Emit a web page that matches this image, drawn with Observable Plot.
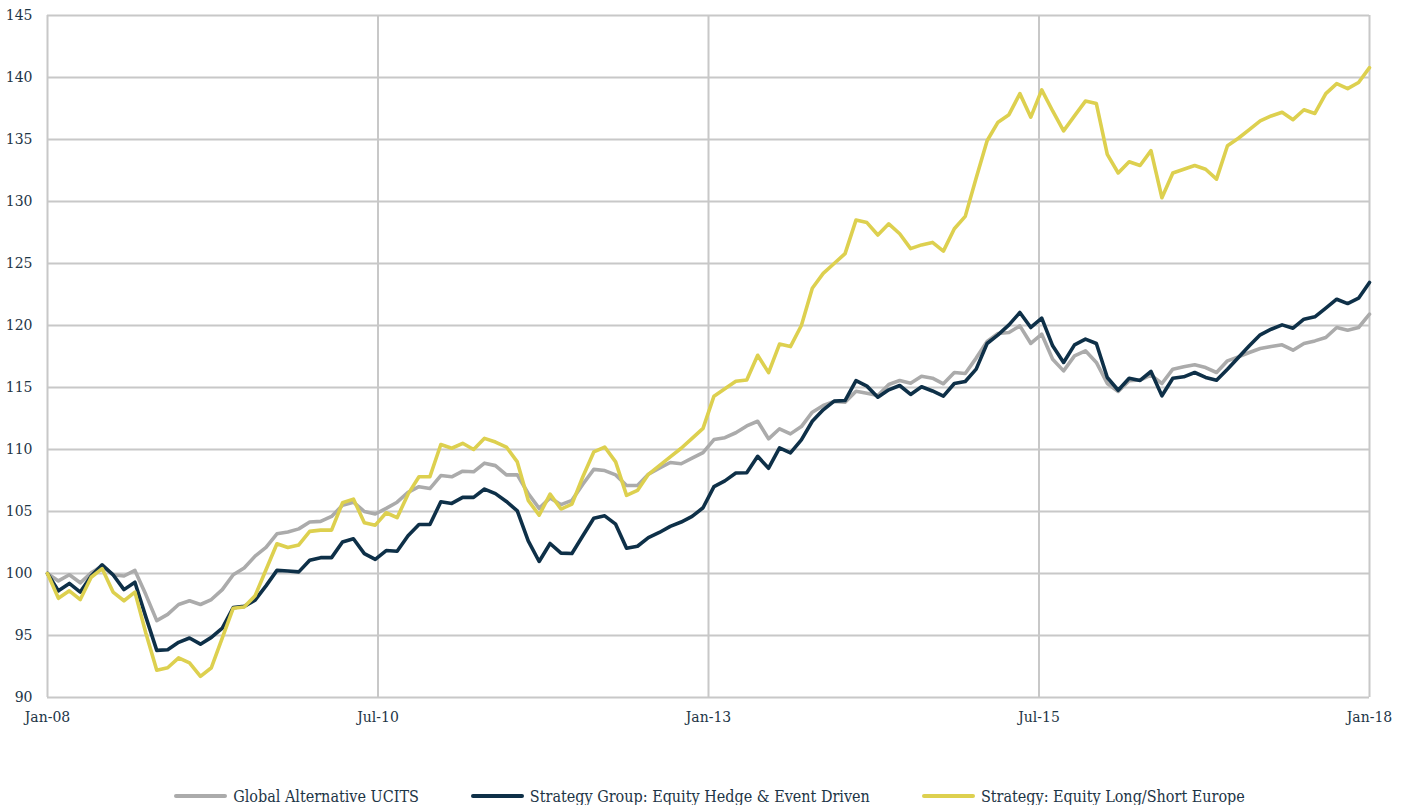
<!DOCTYPE html>
<html>
<head>
<meta charset="utf-8">
<script src="https://cdn.jsdelivr.net/npm/d3@7"></script>
<script src="https://cdn.jsdelivr.net/npm/@observablehq/plot@0.6"></script>
<style>
  html, body { margin: 0; padding: 0; background: #ffffff; }
  #chart svg { display: block; }
  .legend {
    display: flex; justify-content: center; align-items: center;
    gap: 52px; padding-top: 52px; padding-left: 18px; height: 18px;
    font-family: "DejaVu Serif Condensed", "DejaVu Serif", serif;
    font-stretch: condensed; font-size: 16px; color: #1d3546;
  }
  .legend .item { display: flex; align-items: center; gap: 6px; white-space: nowrap; }
  .legend .sw { width: 53px; height: 4px; border-radius: 2px; }
</style>
</head>
<body>
<div id="chart"></div>
<div class="legend" id="legend"></div>
<script>
// ---- data ----
const seriesNames = [
  "Global Alternative UCITS",
  "Strategy Group: Equity Hedge & Event Driven",
  "Strategy: Equity Long/Short Europe"
];
const xTickLabels = ["Jan-08", "Jul-10", "Jan-13", "Jul-15", "Jan-18"];
const yTicks = [90, 95, 100, 105, 110, 115, 120, 125, 130, 135, 140, 145];

const globalUcits = [
  100.0, 99.4, 99.9, 99.25, 100.05, 100.6, 99.9, 99.8, 100.25, 98.3,
  96.2, 96.7, 97.5, 97.8, 97.5, 97.9, 98.7, 99.9, 100.45, 101.4,
  102.1, 103.2, 103.35, 103.6, 104.15, 104.2, 104.6, 105.5, 105.75, 105.0,
  104.8, 105.25, 105.75, 106.55, 107.0, 106.85, 107.9, 107.8, 108.25, 108.2,
  108.9, 108.7, 107.95, 107.95, 106.45, 105.25, 106.1, 105.55, 105.9, 107.2,
  108.4, 108.3, 107.95, 107.1, 107.1, 108.0, 108.5, 108.95, 108.85, 109.3,
  109.75, 110.8, 110.95, 111.35, 111.9, 112.28, 110.86, 111.67, 111.26, 111.85,
  113.01, 113.55, 113.87, 113.82, 114.7, 114.54, 114.35, 115.24, 115.56, 115.35,
  115.9, 115.75, 115.3, 116.21, 116.13, 117.37, 118.71, 119.35, 119.44, 119.97,
  118.55, 119.3, 117.28, 116.34, 117.55, 117.96, 117.02, 115.32, 114.68, 115.54,
  115.6, 116.0, 115.32, 116.48, 116.67, 116.83, 116.61, 116.21, 117.15, 117.47,
  117.82, 118.15, 118.31, 118.44, 118.01, 118.55, 118.76, 119.03, 119.84, 119.62,
  119.84, 120.91
];
const equityHedgeEvent = [
  100.0, 98.6, 99.2, 98.5, 99.8, 100.7, 99.9, 98.7, 99.3, 96.5,
  93.8, 93.85, 94.45, 94.8, 94.3, 94.85, 95.6, 97.25, 97.35, 97.85,
  99.0, 100.25, 100.2, 100.13, 101.07, 101.28, 101.28, 102.54, 102.8, 101.6,
  101.14, 101.85, 101.8, 103.05, 103.95, 103.95, 105.78, 105.65, 106.14, 106.14,
  106.81, 106.44, 105.81, 105.05, 102.63, 100.97, 102.42, 101.64, 101.61, 103.04,
  104.46, 104.65, 103.98, 102.04, 102.2, 102.9, 103.31, 103.8, 104.15, 104.6,
  105.3, 107.0, 107.47, 108.1, 108.12, 109.45, 108.49, 110.13, 109.73, 110.78,
  112.28, 113.2, 113.9, 113.95, 115.56, 115.11, 114.22, 114.81, 115.16, 114.44,
  115.06, 114.72, 114.3, 115.32, 115.48, 116.48, 118.55, 119.25, 120.05, 121.05,
  119.84, 120.59, 118.36, 117.02, 118.44, 118.9, 118.55, 115.81, 114.78, 115.75,
  115.57, 116.29, 114.33, 115.75, 115.86, 116.21, 115.81, 115.59, 116.48, 117.42,
  118.36, 119.25, 119.7, 120.05, 119.78, 120.51, 120.7, 121.4, 122.12, 121.77,
  122.2, 123.47
];
const equityLSEurope = [
  100.0, 98.0, 98.6, 97.9, 99.7, 100.4, 98.5, 97.8, 98.5, 95.2,
  92.2, 92.4, 93.2, 92.8, 91.7, 92.4, 94.8, 97.2, 97.3, 98.2,
  100.3, 102.4, 102.1, 102.3, 103.4, 103.5, 103.5, 105.7, 106.0, 104.1,
  103.9, 104.9, 104.5, 106.4, 107.8, 107.8, 110.4, 110.1, 110.5, 110.0,
  110.9, 110.6, 110.2, 109.0, 105.9, 104.7, 106.4, 105.2, 105.6, 107.8,
  109.8, 110.2, 109.0, 106.3, 106.7, 108.0, 108.7, 109.4, 110.1, 110.9,
  111.7, 114.3, 114.9, 115.5, 115.6, 117.6, 116.2, 118.5, 118.3, 120.0,
  123.0, 124.2, 125.0, 125.8, 128.5, 128.3, 127.3, 128.2, 127.4, 126.2,
  126.5, 126.7, 126.0, 127.8, 128.8, 131.9, 134.9, 136.4, 137.0, 138.7,
  136.8, 139.0, 137.3, 135.7, 136.9, 138.1, 137.9, 133.8, 132.3, 133.2,
  132.9, 134.1, 130.3, 132.3, 132.6, 132.9, 132.6, 131.8, 134.5, 135.1,
  135.8, 136.5, 136.9, 137.2, 136.6, 137.4, 137.1, 138.7, 139.5, 139.1,
  139.6, 140.8
];

// ---- styles ----
const seriesColors = ["#ababab", "#0e3048", "#ddd04f"];
const gridColor = "#c8c8c8";
const textColor = "#1d3546";

// ---- build table ----
const seriesValues = [globalUcits, equityHedgeEvent, equityLSEurope];
const table = seriesValues.flatMap((vals, s) =>
  vals.map((v, i) => ({ i, v, series: seriesNames[s] }))
);
const N = globalUcits.length;
const xTicks = xTickLabels.map((_, k) => k * (N - 1) / (xTickLabels.length - 1));

const chart = Plot.plot({
  width: 1401,
  height: 735,
  marginLeft: 47,
  marginRight: 32,
  marginTop: 15,
  marginBottom: 38,
  style: {
    fontFamily: "'DejaVu Serif', serif",
    fontSize: "14px",
    color: textColor,
    background: "#ffffff"
  },
  x: { type: "linear", domain: [0, N - 1] },
  y: { domain: [90, 145] },
  color: { domain: seriesNames, range: seriesColors },
  marks: [
    Plot.ruleY(yTicks, { y: d => d, stroke: gridColor, strokeWidth: 2 }),
    Plot.ruleX(xTicks, { x: d => d, stroke: gridColor, strokeWidth: 2 }),
    Plot.lineY(table, {
      x: "i", y: "v", z: "series", stroke: "series",
      strokeWidth: 3.6, strokeLinejoin: "round", strokeLinecap: "round"
    }),
    Plot.axisX(xTicks, {
      tickSize: 0, tickPadding: 15, label: null,
      tickFormat: (d, k) => xTickLabels[k],
      fill: textColor
    }),
    Plot.axisY(yTicks, {
      tickSize: 0, tickPadding: 15, label: null,
      fill: textColor
    })
  ]
});
document.getElementById("chart").appendChild(chart);

// ---- legend ----
const legend = document.getElementById("legend");
seriesNames.forEach((name, s) => {
  const item = document.createElement("div");
  item.className = "item";
  const sw = document.createElement("span");
  sw.className = "sw";
  sw.style.background = seriesColors[s];
  const label = document.createElement("span");
  label.textContent = name;
  item.appendChild(sw);
  item.appendChild(label);
  legend.appendChild(item);
});
</script>
</body>
</html>
